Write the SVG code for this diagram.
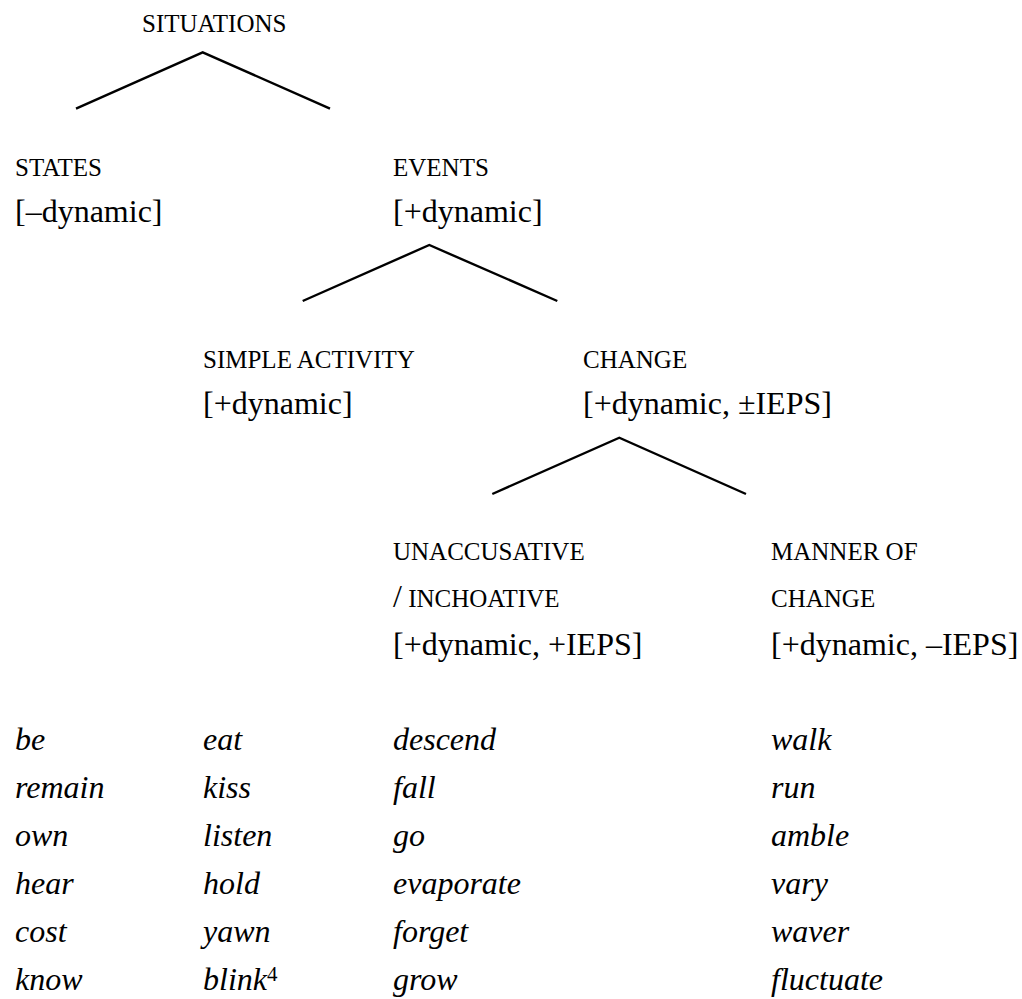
<svg xmlns="http://www.w3.org/2000/svg" width="1022" height="999" viewBox="0 0 1022 999">
<style>
text{font-family:"Liberation Serif","Times New Roman",serif;fill:#000}
.sc{font-size:25px}
.ft{font-size:32px}
.it{font-size:32px;font-style:italic}
.edge{stroke:#000;stroke-width:2.4;fill:none}
</style>
<rect width="1022" height="999" fill="#fff"/>
<g id="connectors">
<polyline class="edge" points="76,108.7 202.7,52.3 330,108.7"/>
<polyline class="edge" points="302.7,301 429.3,245 557.3,301"/>
<polyline class="edge" points="492.3,494 619.3,437.7 746,494"/>
</g>
<g id="situations"><text class="sc" x="142" y="32">SITUATIONS</text></g>
<g id="states"><text class="sc" x="15" y="176">STATES</text><text class="ft" x="15" y="222">[–dynamic]</text></g>
<g id="events"><text class="sc" x="393" y="176">EVENTS</text><text class="ft" x="393" y="222">[+dynamic]</text></g>
<g id="simple-activity"><text class="sc" x="203" y="368">SIMPLE ACTIVITY</text><text class="ft" x="203" y="414">[+dynamic]</text></g>
<g id="change"><text class="sc" x="583" y="368">CHANGE</text><text class="ft" x="583" y="414">[+dynamic, ±IEPS]</text></g>
<g id="unaccusative"><text class="sc" x="393" y="560">UNACCUSATIVE</text><text x="393" y="607"><tspan class="ft">/</tspan><tspan class="sc"> INCHOATIVE</tspan></text><text class="ft" x="393" y="655">[+dynamic, +IEPS]</text></g>
<g id="manner"><text class="sc" x="771" y="560">MANNER OF</text><text class="sc" x="771" y="607">CHANGE</text><text class="ft" x="771" y="655">[+dynamic, –IEPS]</text></g>
<g id="list-states">
<text class="it" x="15" y="750">be</text><text class="it" x="15" y="798">remain</text><text class="it" x="15" y="846">own</text><text class="it" x="15" y="894">hear</text><text class="it" x="15" y="942">cost</text><text class="it" x="15" y="990">know</text>
</g>
<g id="list-activity">
<text class="it" x="203" y="750">eat</text><text class="it" x="203" y="798">kiss</text><text class="it" x="203" y="846">listen</text><text class="it" x="203" y="894">hold</text><text class="it" x="203" y="942">yawn</text><text x="203" y="990"><tspan class="it">blink</tspan><tspan font-size="21" dy="-9">4</tspan></text>
</g>
<g id="list-unaccusative">
<text class="it" x="393" y="750">descend</text><text class="it" x="393" y="798">fall</text><text class="it" x="393" y="846">go</text><text class="it" x="393" y="894">evaporate</text><text class="it" x="393" y="942">forget</text><text class="it" x="393" y="990">grow</text>
</g>
<g id="list-manner">
<text class="it" x="771" y="750">walk</text><text class="it" x="771" y="798">run</text><text class="it" x="771" y="846">amble</text><text class="it" x="771" y="894">vary</text><text class="it" x="771" y="942">waver</text><text class="it" x="771" y="990">fluctuate</text>
</g>
</svg>
